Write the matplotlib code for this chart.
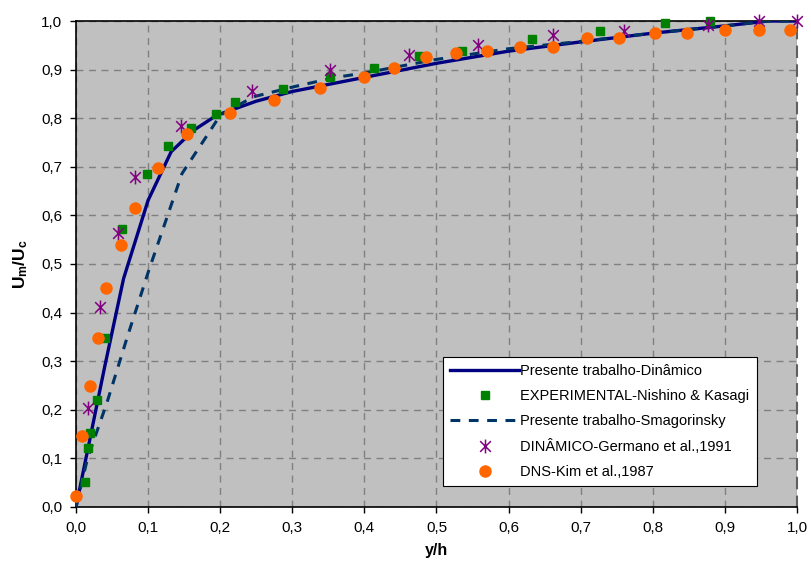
"""Velocity profile comparison: Um/Uc vs y/h."""
import numpy as np
import matplotlib

matplotlib.use("Agg")
import matplotlib.pyplot as plt
from matplotlib.path import Path
from matplotlib.ticker import FuncFormatter, MultipleLocator

plt.rcParams["font.family"] = ["Liberation Sans", "DejaVu Sans"]
plt.rcParams["mathtext.fontset"] = "custom"
plt.rcParams["mathtext.rm"] = "Liberation Sans"
plt.rcParams["mathtext.bf"] = "Liberation Sans:bold"

# Presente trabalho - Dinâmico (solid line)
din_x = [0.0, 0.02, 0.04, 0.066, 0.10, 0.132, 0.163, 0.195, 0.25, 0.30, 0.40, 0.50, 0.60,
         0.70, 0.80, 0.90, 0.96, 1.0]
din_y = [0.0, 0.145, 0.29, 0.47, 0.631, 0.731, 0.775, 0.806, 0.835, 0.855, 0.884, 0.913,
         0.938, 0.957, 0.975, 0.99, 1.0, 1.0]

# Presente trabalho - Smagorinsky (dashed line)
sma_x = [0.0, 0.016, 0.043, 0.071, 0.101, 0.147, 0.182, 0.20, 0.246, 0.30, 0.36, 0.40,
         0.50, 0.60, 0.70, 0.80, 0.90, 0.96, 1.0]
sma_y = [0.0, 0.10, 0.215, 0.349, 0.487, 0.686, 0.765, 0.806, 0.844, 0.864, 0.884, 0.893,
         0.921, 0.943, 0.958, 0.975, 0.99, 1.0, 1.0]

# EXPERIMENTAL - Nishino & Kasagi
exp_x = [0.013, 0.016, 0.019, 0.029, 0.040, 0.064, 0.099, 0.128, 0.160, 0.194, 0.221,
         0.287, 0.352, 0.413, 0.476, 0.536, 0.633, 0.727, 0.817, 0.880]
exp_y = [0.052, 0.122, 0.153, 0.221, 0.347, 0.571, 0.686, 0.742, 0.780, 0.808, 0.834,
         0.860, 0.884, 0.904, 0.928, 0.939, 0.963, 0.980, 0.995, 1.0]

# DINÂMICO - Germano et al., 1991
ger_x = [0.016, 0.033, 0.058, 0.082, 0.145, 0.244, 0.352, 0.462, 0.557, 0.662, 0.760,
         0.876, 0.948, 1.0]
ger_y = [0.203, 0.412, 0.564, 0.680, 0.784, 0.856, 0.899, 0.930, 0.951, 0.971, 0.979,
         0.992, 1.0, 1.0]

# DNS - Kim et al., 1987
dns_x = [0.0, 0.009, 0.020, 0.030, 0.042, 0.063, 0.082, 0.114, 0.154, 0.213, 0.274, 0.338,
         0.400, 0.441, 0.485, 0.527, 0.570, 0.616, 0.662, 0.709, 0.753, 0.803, 0.848,
         0.900, 0.947, 0.991]
dns_y = [0.022, 0.146, 0.249, 0.347, 0.450, 0.540, 0.616, 0.698, 0.768, 0.810, 0.837,
         0.862, 0.884, 0.904, 0.925, 0.935, 0.939, 0.946, 0.946, 0.966, 0.966, 0.975,
         0.975, 0.981, 0.981, 0.981]

# Excel-like star: X with a vertical bar
star = Path([(-1, -1), (1, 1), (-1, 1), (1, -1), (0, -1.3), (0, 1.3)],
            [Path.MOVETO, Path.LINETO, Path.MOVETO, Path.LINETO, Path.MOVETO, Path.LINETO])

fig = plt.figure(figsize=(8.11, 5.65), dpi=100)
ax = fig.add_axes([0.0937, 0.1027, 0.8890, 0.8601])
ax.set_facecolor("#C0C0C0")

ax.plot(din_x, din_y, color="#000080", lw=2.4, label="Presente trabalho-Dinâmico", zorder=3)
ax.plot(exp_x, exp_y, ls="none", marker="s", ms=6, color="#008000", mec="#008000",
        label="EXPERIMENTAL-Nishino & Kasagi", zorder=4, clip_on=False)
ax.plot(sma_x, sma_y, color="#003366", lw=2.2, ls=(0, (3.2, 2.8)),
        label="Presente trabalho-Smagorinsky", zorder=3)
ax.plot(ger_x, ger_y, ls="none", marker=star, ms=10, mew=1.1, color="#800080",
        mfc="none", label="DINÂMICO-Germano et al.,1991", zorder=5, clip_on=False)
ax.plot(dns_x, dns_y, ls="none", marker="o", ms=8, color="#FF6600", mec="#FF6600",
        label="DNS-Kim et al.,1987", zorder=6, clip_on=False)

ax.set_xlim(0, 1)
ax.set_ylim(0, 1)
ax.xaxis.set_major_locator(MultipleLocator(0.1))
ax.yaxis.set_major_locator(MultipleLocator(0.1))
comma = FuncFormatter(lambda v, p: f"{v:.1f}".replace(".", ","))
ax.xaxis.set_major_formatter(comma)
ax.yaxis.set_major_formatter(comma)
ax.tick_params(labelsize=11, length=4, width=1, direction="out", pad=6)
ax.grid(True, color="#808080", ls=(0, (5, 4)), lw=1)
ax.set_axisbelow(True)
for s in ["left", "bottom", "top"]:
    ax.spines[s].set_color("black")
    ax.spines[s].set_linewidth(1.2)
ax.spines["right"].set_color("#606060")
ax.spines["right"].set_linestyle((0, (5, 4)))
ax.spines["right"].set_linewidth(1.5)

ax.set_xlabel("y/h", fontsize=11.5, fontweight="bold", labelpad=6)
ax.set_ylabel(r"$\mathbf{U_m/U_c}$", fontsize=12.5, labelpad=8)

leg = ax.legend(loc="lower left", bbox_to_anchor=(0.509, 0.043), borderaxespad=0,
                fontsize=10.5, frameon=True, fancybox=False, edgecolor="black",
                framealpha=1, handlelength=4.7, handletextpad=0.1, borderpad=0.5,
                labelspacing=0.75)
leg.get_frame().set_linewidth(0.8)

fig.savefig("out.png", dpi=100)
